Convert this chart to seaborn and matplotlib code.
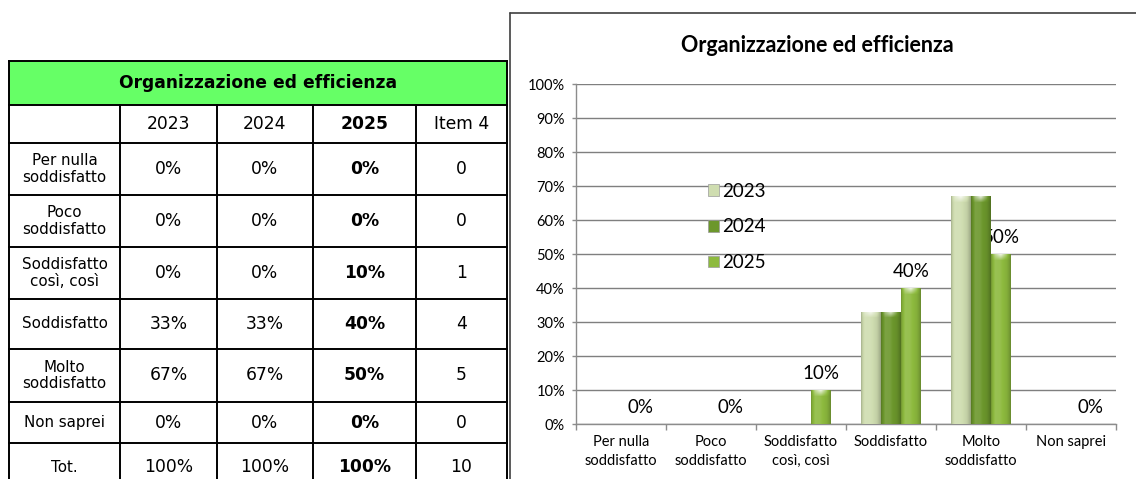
import numpy as np
import pandas as pd
import matplotlib
matplotlib.use("Agg")
import matplotlib.pyplot as plt
from matplotlib.patches import Rectangle
from matplotlib.ticker import PercentFormatter, FixedLocator
import seaborn as sns

# ---------------- data ----------------
title = "Organizzazione ed efficienza"
categories = ["Per nulla\nsoddisfatto", "Poco\nsoddisfatto", "Soddisfatto\ncosì, così",
              "Soddisfatto", "Molto\nsoddisfatto", "Non saprei"]
years = ["2023", "2024", "2025"]
v2023 = [0.00, 0.00, 0.00, 0.33, 0.67, 0.00]
v2024 = [0.00, 0.00, 0.00, 0.33, 0.67, 0.00]
v2025 = [0.00, 0.00, 0.10, 0.40, 0.50, 0.00]
item4 = [0, 0, 1, 4, 5, 0]
table_header = ["", "2023", "2024", "2025", "Item 4"]
total_label = "Tot."

colors = {"2023": "#CFDDB0", "2024": "#6C972C", "2025": "#8DBA3E"}

sns.set_theme(style="white")
plt.rcParams['font.family'] = ['Lato', 'DejaVu Sans']
plt.rcParams['text.color'] = 'black'
plt.rcParams['xtick.color'] = 'black'
plt.rcParams['ytick.color'] = 'black'

W, H = 1136, 479
fig = plt.figure(figsize=(W / 100, H / 100), dpi=100)

# ---------------- table (pixel coordinates) ----------------
tax = fig.add_axes([0, 0, 1, 1])
tax.set_xlim(0, W)
tax.set_ylim(H, 0)
tax.axis("off")

xs = [9, 120, 217, 313, 416, 507]
ys = [61, 105, 143, 195, 247, 299, 349, 402, 443, 500]
lw_t = 1.4
tax.add_patch(Rectangle((xs[0], ys[0]), xs[-1] - xs[0], ys[1] - ys[0],
                        facecolor="#66FF66", edgecolor="none", zorder=1))
for y in ys[:-1]:
    tax.plot([xs[0], xs[-1]], [y, y], color="black", lw=lw_t, zorder=2, solid_capstyle="projecting")
for i, x in enumerate(xs):
    y0 = ys[0] if i in (0, len(xs) - 1) else ys[1]
    tax.plot([x, x], [y0, ys[-1]], color="black", lw=lw_t, zorder=2)

tax.text((xs[0] + xs[-1]) / 2, (ys[0] + ys[1]) / 2, title, ha="center", va="center",
         family="DejaVu Sans", fontsize=12.3, fontweight="bold", color="black")
cx = [(xs[i] + xs[i + 1]) / 2 for i in range(len(xs) - 1)]
for j, h in enumerate(table_header):
    tax.text(cx[j], (ys[1] + ys[2]) / 2, h, ha="center", va="center", family="DejaVu Sans",
             fontsize=12.3, fontweight="bold" if h == "2025" else "normal", color="black")

rows = []
for k, cat in enumerate(categories):
    rows.append([cat, f"{v2023[k]:.0%}", f"{v2024[k]:.0%}", f"{v2025[k]:.0%}", f"{item4[k]}"])
rows.append([total_label, f"{sum(v2023):.0%}", f"{sum(v2024):.0%}", f"{sum(v2025):.0%}", f"{sum(item4)}"])
row_centers = [(ys[i] + ys[i + 1]) / 2 for i in range(2, len(ys) - 1)]
row_centers[-1] = 467
for r, row in enumerate(rows):
    for j, txt in enumerate(row):
        tax.text(cx[j], row_centers[r], txt, ha="center", va="center", family="DejaVu Sans",
                 fontsize=10.9 if j == 0 else 12.3, color="black",
                 fontweight="bold" if j == 3 else "normal", linespacing=1.15)

# chart frame
tax.plot([510, W + 5], [13, 13], color="#404040", lw=1.2, zorder=2)
tax.plot([510, 510], [13, H + 5], color="#404040", lw=1.2, zorder=2)

# ---------------- bar chart ----------------
ax = fig.add_axes([576 / W, 1 - 424 / H, 540 / W, 340 / H])
ax.patch.set_alpha(0)
df = pd.DataFrame({
    "cat": categories * 3,
    "year": [y for y in years for _ in categories],
    "val": v2023 + v2024 + v2025,
})
sns.barplot(data=df, x="cat", y="val", hue="year", order=categories, hue_order=years,
            palette=colors, width=2 / 3, gap=0, errorbar=None, saturation=1,
            edgecolor="none", linewidth=0, ax=ax, zorder=3)

# bevel-like shading for each bar
def shade(bar, base):
    x, y = bar.get_x(), bar.get_y()
    w, h = bar.get_width(), bar.get_height()
    if h <= 0:
        return
    rgb = np.array(matplotlib.colors.to_rgb(base))
    n = 64
    t = np.linspace(0, 1, n)
    prof = np.interp(t, [0, 0.08, 0.2, 0.45, 0.8, 0.92, 1.0],
                     [0.80, 0.95, 1.05, 1.04, 0.94, 0.84, 0.74])
    px_h = h * 340.0
    nrows = max(int(px_h), 2)
    img = np.empty((nrows, n, 3))
    for r in range(nrows):
        from_top = (nrows - 1 - r)
        cap = 0.0
        if from_top < 6:
            cap = 0.35 * (1 - from_top / 6.0)
        for i, p in enumerate(prof):
            pp = p + cap * (1 - abs(t[i] - 0.5) * 2)
            if pp >= 1:
                c = rgb + (1 - rgb) * (pp - 1) * 2.2
            else:
                c = rgb * pp
            img[r, i] = np.clip(c, 0, 1)
    im = ax.imshow(img, extent=[x, x + w, y, y + h], aspect="auto",
                   interpolation="bilinear", zorder=3.5, origin="lower")
    im.set_clip_path(bar)

for cont, yr in zip(ax.containers, years):
    for bar in cont:
        shade(bar, colors[yr])

ax.bar_label(ax.containers[2], labels=[f"{v:.0%}" for v in v2025], padding=6,
             fontsize=13.5, color="black")

ax.set_xlim(-0.5, len(categories) - 0.5)
ax.set_ylim(0, 1)
ax.yaxis.set_major_locator(FixedLocator(np.arange(0, 1.01, 0.1)))
ax.yaxis.set_major_formatter(PercentFormatter(1.0, decimals=0))
ax.grid(axis="y", color="#7f7f7f", lw=1.0, zorder=0)
ax.set_axisbelow(True)
for s in ["top", "right"]:
    ax.spines[s].set_visible(False)
for s in ["left", "bottom"]:
    ax.spines[s].set_color("#8c8c8c")
    ax.spines[s].set_linewidth(1.0)
ax.set_xlabel("")
ax.set_ylabel("")
ax.tick_params(axis="y", which="major", left=True, length=3, width=1, color="#8c8c8c",
               labelsize=10.5, pad=5)
ax.xaxis.set_minor_locator(FixedLocator(np.arange(-0.5, len(categories), 1.0)))
ax.tick_params(axis="x", which="minor", bottom=True, length=4, width=1, color="#8c8c8c")
ax.tick_params(axis="x", which="major", bottom=False, length=0, labelsize=10.5, pad=8)
for lab in ax.get_xticklabels():
    lab.set_linespacing(1.4)

handles = [Rectangle((0, 0), 1, 1, facecolor=colors[y], edgecolor="#9a9a9a", lw=0.5) for y in years]
ax.legend(handles, years, loc="upper left", bbox_to_anchor=(0.244, 0.71), frameon=False,
          fontsize=13.5, handlelength=0.6, handleheight=0.6, handletextpad=0.15,
          labelspacing=1.0, borderpad=0, borderaxespad=0)

fig.text(817 / W, 1 - 46 / H, title, ha="center", va="center", fontsize=15.5, fontweight="bold")

fig.savefig("out.png", dpi=100)
